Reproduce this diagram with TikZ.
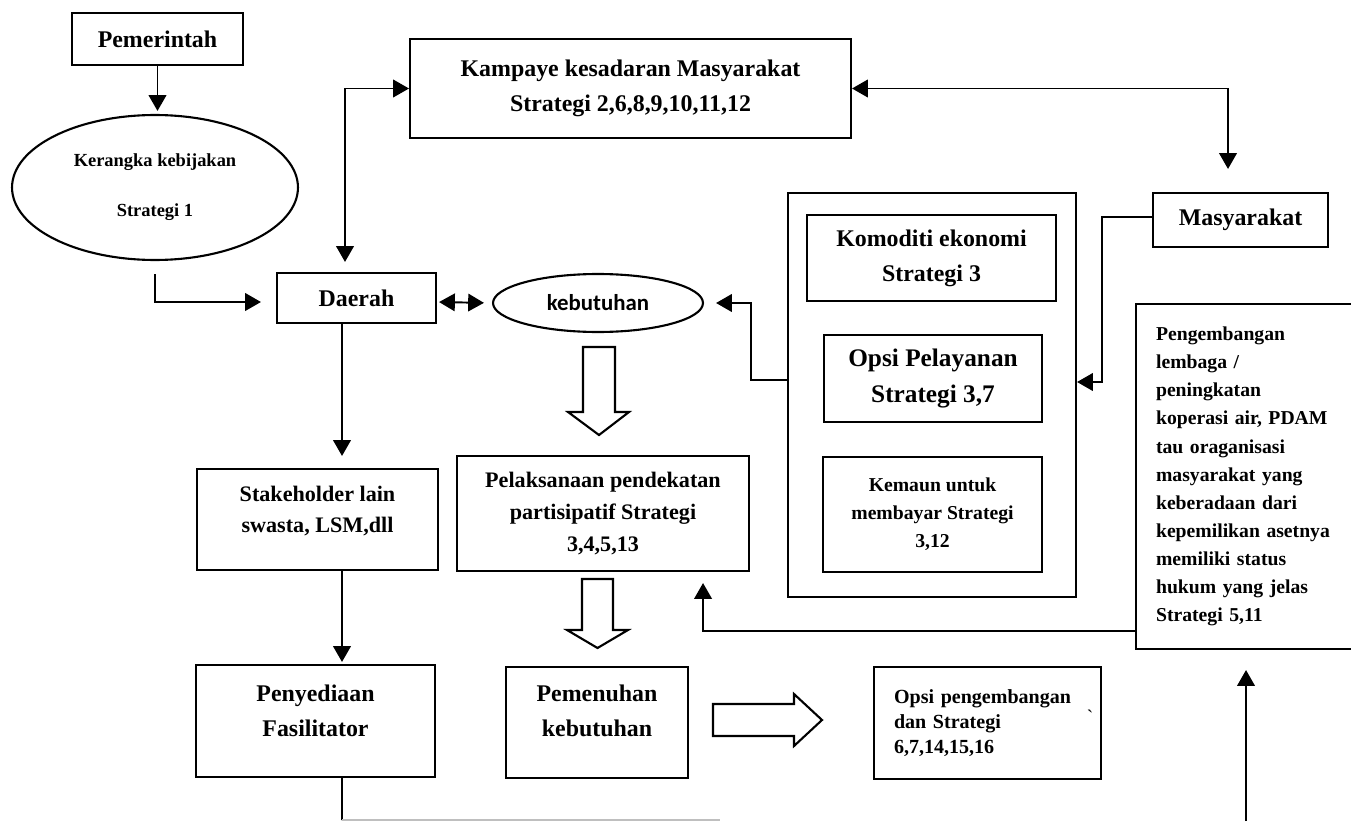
\documentclass[tikz,border=0pt]{standalone}
\usepackage{fontspec}
\setmainfont{Liberation Serif}
\newfontfamily\kebfont{Carlito}
\usetikzlibrary{shapes.geometric,arrows.meta}

\tikzset{
  box/.style={draw,line width=1.2pt,align=center,inner sep=0pt},
  oval/.style={draw,ellipse,line width=1.2pt,inner sep=0pt,align=center},
  blok/.style={draw,line width=1.2pt,line join=miter},
  lbl/.style={font=\fontsize{13.6}{20}\selectfont\bfseries},
  txtm/.style={font=\fontsize{12.6}{18}\selectfont\bfseries},
  txts/.style={font=\fontsize{11.2}{16}\selectfont\bfseries},
  arr/.style={-{Triangle[length=9pt,width=10pt]},line width=1.1pt},
  darr/.style={{Triangle[length=9pt,width=10pt]}-{Triangle[length=9pt,width=10pt]},line width=1.1pt},
}

\begin{document}
\begin{tikzpicture}[x=0.02cm,y=-0.02cm]
  \useasboundingbox[fill=white] (0,0) rectangle (1351,821);

  % left column
  \node[box,lbl,minimum width=3.42cm,minimum height=1.04cm] (pem) at (157.5,39) {Pemerintah};
  \node[oval,minimum width=5.72cm,minimum height=2.9cm,font=\fontsize{10.5}{28.5}\selectfont\bfseries] (kerangka) at (155,187.5) {Kerangka kebijakan\\Strategi 1};
  \node[box,lbl,minimum width=3.18cm,minimum height=1cm] (daerah) at (356.5,298) {Daerah};
  \node[box,minimum width=4.82cm,minimum height=2.02cm,
        label={[txtm,align=center,yshift=0.17cm]center:Stakeholder lain\\swasta, LSM,dll}] (stakeholder) at (317.5,519.5) {};
  \node[box,minimum width=4.78cm,minimum height=2.24cm,
        label={[lbl,align=center,yshift=0.21cm]center:Penyediaan\\Fasilitator}] (penyediaan) at (315.5,721) {};

  % middle
  \node[box,lbl,minimum width=8.82cm,minimum height=1.98cm] (kampanye) at (630.5,88.5) {Kampaye kesadaran Masyarakat\\Strategi 2,6,8,9,10,11,12};
  \node[oval,minimum width=4.2cm,minimum height=1.16cm,font=\kebfont\fontsize{13}{16}\selectfont\bfseries] (kebutuhan) at (598,303) {kebutuhan};
  \node[box,txtm,minimum width=5.84cm,minimum height=2.3cm] (pelaksanaan) at (603,513.5) {Pelaksanaan pendekatan\\partisipatif Strategi\\3,4,5,13};
  \node[box,minimum width=3.64cm,minimum height=2.22cm,
        label={[lbl,align=center,yshift=0.24cm]center:Pemenuhan\\kebutuhan}] (pemenuhan) at (597,722.5) {};
  \node[box,align=left,text width=3.74cm,inner xsep=0.4cm,minimum height=2.24cm,font=\fontsize{11.4}{14}\selectfont\bfseries] (opsibangun) at (987.5,723) {Opsi pengembangan\\dan Strategi\\6,7,14,15,16};
  \node[font=\fontsize{11}{13}\selectfont] (tanda) at (1090,717) {\textasciigrave};

  % hollow arrows
  \draw[blok] (583,347) -- (615,347) -- (615,412) -- (629,412) -- (599,435) -- (568,412) -- (583,412) -- cycle;
  \draw[blok] (582,579) -- (613,579) -- (613,630) -- (628,630) -- (597.5,648) -- (567,630) -- (582,630) -- cycle;
  \draw[blok] (713,704) -- (794,704) -- (794,694) -- (822,720) -- (794,746) -- (794,736) -- (713,736) -- cycle;

  % right group
  \node[box,minimum width=5.76cm,minimum height=8.08cm] (wadah) at (932,395) {};
  \node[box,lbl,minimum width=4.98cm,minimum height=1.72cm] (komoditi) at (931.5,258) {Komoditi ekonomi\\Strategi 3};
  \node[box,font=\fontsize{14.4}{20}\selectfont\bfseries,minimum width=4.36cm,minimum height=1.74cm] (opsi) at (933,378.5) {Opsi Pelayanan\\Strategi 3,7};
  \node[box,txts,minimum width=4.38cm,minimum height=2.3cm] (kemauan) at (932.5,514.5) {Kemaun untuk\\membayar Strategi\\3,12};
  \node[box,lbl,minimum width=3.5cm,minimum height=1.08cm] (masyarakat) at (1240.5,220) {Masyarakat};
  \node[box,txts,anchor=north west,align=left,text width=3.9cm,inner xsep=0.4cm,minimum height=6.9cm] (lembaga) at (1135,303)
    {Pengembangan\\lembaga /\\peningkatan\\koperasi air, PDAM\\tau oraganisasi\\masyarakat yang\\keberadaan dari\\kepemilikan asetnya\\memiliki status\\hukum yang jelas\\Strategi 5,11};

  \coordinate (kaki) at (342,820);
  \coordinate (pangkal) at (1246,821);

  \begin{scope}
    \draw[arr,shorten >=0.06cm] (pem.south) -- (pem.south |- kerangka.north);
    \draw[arr,shorten <=0.26cm,shorten >=0.3cm] (kerangka.south) |- ([yshift=-0.08cm]daerah.west);
    \draw[darr,shorten >=0.2cm] (kampanye.west) -| ([xshift=-0.23cm]daerah.north);
    \draw[darr,shorten >=0.46cm] (kampanye.east) -| ([xshift=-0.25cm]masyarakat.north);
    \draw[darr,shorten <=0.04cm,shorten >=0.16cm] ([yshift=-0.08cm]daerah.east) -- (kebutuhan.west);
    \draw[arr,shorten >=0.24cm] ([yshift=0.3cm]wadah.west) -- ++(-36,0) |- (kebutuhan.east);
    \draw[arr] ([yshift=0.06cm]masyarakat.west) -- ++(-50,0) |- ([yshift=0.26cm]wadah.east);
    \draw[arr,shorten >=0.24cm] ([xshift=-0.29cm]daerah.south) -- ([xshift=-0.29cm]daerah.south |- stakeholder.north);
    \draw[arr,shorten >=0.04cm] ([xshift=0.49cm]stakeholder.south) -- ([xshift=0.49cm]stakeholder.south |- penyediaan.north);
    \draw[line width=1.1pt] ([xshift=0.53cm]penyediaan.south) -- (kaki);
    \draw[black!25,line width=0.6pt] (kaki) -- ++(378,0);
    \draw[arr,shorten >=0.4cm] (pangkal) -- (pangkal |- lembaga.south);
    \draw[arr,shorten >=0.22cm] ([yshift=-3.09cm]lembaga.west) -| ([xshift=-0.94cm]pelaksanaan.south east);
  \end{scope}
\end{tikzpicture}
\end{document}
